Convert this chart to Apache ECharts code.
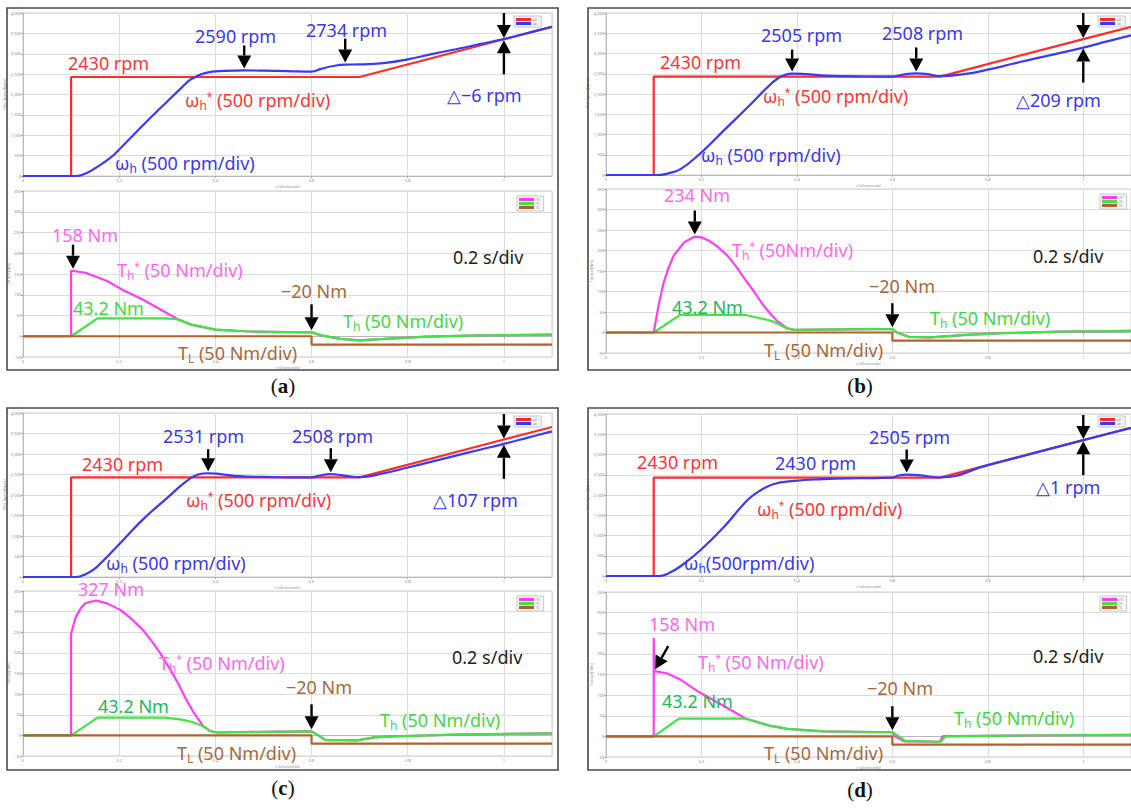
<!DOCTYPE html>
<html>
<head>
<meta charset="utf-8">
<script src="https://cdn.jsdelivr.net/npm/echarts@6/dist/echarts.min.js"></script>
<style>
  html, body { margin: 0; padding: 0; background: #fff; }
  #main { width: 1131px; height: 810px; }
</style>
</head>
<body>
<div id="main"></div>
<script>
// ---- Speed reference (shared by all four runs) ----
const refSpeed_t = [0, 0.1, 0.1, 0.7, 1.0, 1.1];
const refSpeed_v = [0, 0, 2430, 2430, 3355, 3660];

// ---- Load torque step (shared) ----
const loadTorque_t = [0, 0.6, 0.6, 1.1];
const loadTorque_v = [0, 0, -20, -20];

// ---- (a) ----
const speedA_t = [0, 0.11, 0.13, 0.15, 0.18, 0.2, 0.25, 0.3, 0.33, 0.35, 0.38, 0.42, 0.46, 0.5, 0.55, 0.6, 0.62, 0.645, 0.67, 0.7, 0.75, 0.8, 0.85, 0.9, 0.95, 1.0, 1.05, 1.1];
const speedA_v = [0, 0, 60, 190, 430, 650, 1250, 1830, 2170, 2380, 2530, 2578, 2590, 2586, 2576, 2560, 2630, 2700, 2734, 2738, 2770, 2860, 2990, 3110, 3235, 3361, 3510, 3662];
const cmdTorqueA_t = [0, 0.1, 0.1, 0.13, 0.175, 0.21, 0.25, 0.285, 0.32, 0.35, 0.4, 0.47, 0.55, 0.6, 0.62, 0.66, 0.7, 0.77, 0.84, 0.95, 1.1];
const cmdTorqueA_v = [0, 0, 158, 153, 133, 110, 88, 65, 42, 28, 16, 11.5, 10, 9.5, 2, -6.5, -10, -5, -1, 2, 4];
const torqueA_t = [0, 0.1, 0.155, 0.295, 0.32, 0.35, 0.4, 0.47, 0.55, 0.6, 0.62, 0.66, 0.7, 0.77, 0.84, 0.95, 1.1];
const torqueA_v = [0, 0, 43.2, 43.2, 41, 28, 16, 11.5, 10, 9.5, 2, -6.5, -10, -5, -1, 2, 4];

// ---- (b) ----
const speedB_t = [0, 0.11, 0.13, 0.157, 0.2, 0.246, 0.3, 0.336, 0.358, 0.375, 0.39, 0.42, 0.46, 0.5, 0.55, 0.6, 0.625, 0.65, 0.675, 0.7, 0.75, 0.8, 0.85, 0.9, 0.95, 1.0, 1.05, 1.1];
const speedB_v = [0, 0, 40, 150, 560, 1090, 1710, 2140, 2370, 2470, 2505, 2490, 2455, 2440, 2432, 2430, 2485, 2508, 2490, 2440, 2490, 2600, 2740, 2880, 3010, 3146, 3298, 3450];
const cmdTorqueB_t = [0, 0.1, 0.11, 0.12, 0.13, 0.142, 0.164, 0.186, 0.2, 0.216, 0.235, 0.254, 0.272, 0.291, 0.31, 0.328, 0.345, 0.358, 0.38, 0.395, 0.45, 0.55, 0.6, 0.61, 0.634, 0.68, 0.754, 0.83, 0.95, 1.1];
const cmdTorqueB_v = [0, 0, 65, 118, 155, 188, 220, 234, 232, 224, 208, 188, 162, 130, 100, 69, 45, 28.5, 10, 6.5, 7, 8, 8, 0, -10.6, -12, -5.7, -1.6, 2, 4];
const torqueB_t = [0, 0.1, 0.155, 0.29, 0.33, 0.35, 0.38, 0.395, 0.45, 0.55, 0.6, 0.61, 0.634, 0.68, 0.754, 0.83, 0.95, 1.1];
const torqueB_v = [0, 0, 43.2, 43.2, 33, 27, 10, 6.5, 7, 8, 8, 0, -10.6, -12, -5.7, -1.6, 2, 4];

// ---- (c) ----
const speedC_t = [0, 0.11, 0.13, 0.152, 0.2, 0.249, 0.3, 0.338, 0.364, 0.385, 0.41, 0.45, 0.5, 0.55, 0.6, 0.615, 0.64, 0.665, 0.7, 0.75, 0.8, 0.85, 0.9, 0.95, 1.0, 1.05, 1.1];
const speedC_v = [0, 0, 70, 230, 800, 1400, 1930, 2320, 2500, 2531, 2510, 2460, 2440, 2432, 2430, 2470, 2508, 2480, 2435, 2530, 2670, 2815, 2960, 3105, 3248, 3400, 3552];
const cmdTorqueC_t = [0, 0.1, 0.1, 0.11, 0.12, 0.13, 0.152, 0.175, 0.204, 0.225, 0.249, 0.268, 0.286, 0.305, 0.323, 0.338, 0.353, 0.375, 0.39, 0.405, 0.5, 0.6, 0.61, 0.628, 0.695, 0.73, 0.77, 0.9, 1.1];
const cmdTorqueC_v = [0, 0, 247, 288, 308, 321, 327, 320, 303, 283, 256, 228, 198, 162, 125, 90, 59, 22, 10, 7, 8.5, 9.8, 3, -10.7, -12.3, -5, -2.5, 2, 5];
const torqueC_t = [0, 0.1, 0.155, 0.297, 0.33, 0.35, 0.375, 0.39, 0.405, 0.5, 0.6, 0.61, 0.628, 0.695, 0.73, 0.77, 0.9, 1.1];
const torqueC_v = [0, 0, 43.2, 43.2, 38, 33, 22, 10, 7, 8.5, 9.8, 3, -10.7, -12.3, -5, -2.5, 2, 5];

// ---- (d) ----
const speedD_t = [0, 0.11, 0.13, 0.157, 0.2, 0.246, 0.291, 0.313, 0.35, 0.395, 0.455, 0.53, 0.6, 0.612, 0.63, 0.66, 0.7, 0.8, 0.9, 1.0, 1.1];
const speedD_v = [0, 0, 60, 247, 660, 1195, 1810, 2035, 2265, 2350, 2390, 2414, 2430, 2480, 2505, 2485, 2432, 2737, 3046, 3354, 3660];
const cmdTorqueD_t = [0, 0.1, 0.1, 0.101, 0.127, 0.157, 0.194, 0.231, 0.269, 0.291, 0.343, 0.38, 0.455, 0.6, 0.605, 0.625, 0.7, 0.705, 0.715, 0.72, 0.85, 1.1];
const cmdTorqueD_v = [0, 0, 239, 158, 153, 137, 108, 84, 59, 44, 26, 18, 12, 10, 0, -12, -13, 0, 1, 0.5, 2, 4];
const torqueD_t = [0, 0.1, 0.153, 0.29, 0.343, 0.38, 0.455, 0.6, 0.627, 0.7, 0.712, 0.85, 1.1];
const torqueD_v = [0, 0, 43.2, 43.2, 26, 18, 12, 10, -10.7, -13, 0, 2, 4];

// ---- axis ticks ----
const timeTicks = { min: 0, max: 1.1, interval: 0.2 };
const speedTicks = { min: 0, max: 4000, interval: 500 };
const torqueTicks = { min: -50, max: 350, interval: 50 };

// ---- colours ----
const C = {
  ref: '#ff2b2b', speed: '#3a3af2', cmd: '#ff3cf5', torque: '#3fe63f', load: '#b2622e',
  txtRed: '#ff3333', txtBlue: '#3838ee', txtPink: '#ff66f0', txtGreen: '#22b85a', txtLime: '#42d842', txtBrown: '#a8683a'
};
const FONT = '"Noto Sans", "Open Sans", sans-serif';
const SERIF = '"Liberation Serif", "DejaVu Serif", serif';

const pairs = (t, v) => t.map((x, i) => [x, v[i]]);

// panel layout: grids in pixels [left, top, width, height]
const panels = [
  { tag: 'a', frame: [7, 8, 551, 362], sg: [23, 13, 529, 163], tg: [23, 191, 529, 166], tagPos: [283, 386],
    sLeg: [514, 16], tLeg: [517, 196],
    speed: [speedA_t, speedA_v], cmd: [cmdTorqueA_t, cmdTorqueA_v], th: [torqueA_t, torqueA_v] },
  { tag: 'b', frame: [588, 8, 560, 362], sg: [606, 13, 529, 162], tg: [606, 189, 529, 164], tagPos: [860, 386],
    sLeg: [1098, 16], tLeg: [1100, 194],
    speed: [speedB_t, speedB_v], cmd: [cmdTorqueB_t, cmdTorqueB_v], th: [torqueB_t, torqueB_v] },
  { tag: 'c', frame: [7, 408, 551, 362], sg: [23, 413, 529, 164], tg: [23, 591, 529, 165], tagPos: [283, 788],
    sLeg: [514, 416], tLeg: [517, 596],
    speed: [speedC_t, speedC_v], cmd: [cmdTorqueC_t, cmdTorqueC_v], th: [torqueC_t, torqueC_v] },
  { tag: 'd', frame: [588, 408, 560, 362], sg: [606, 414, 529, 162], tg: [606, 592, 529, 165], tagPos: [860, 790],
    sLeg: [1098, 416], tLeg: [1100, 596],
    speed: [speedD_t, speedD_v], cmd: [cmdTorqueD_t, cmdTorqueD_v], th: [torqueD_t, torqueD_v] }
];

const grids = [], xAxes = [], yAxes = [], series = [], legends = [];
const tinyLabel = { fontSize: 4, color: '#8a8a8a', fontFamily: FONT };

function addAxes(gi, ticks, yName) {
  xAxes.push({
    type: 'value', gridIndex: gi, min: timeTicks.min, max: timeTicks.max, interval: timeTicks.interval,
    name: 't (s)(seconds)', nameLocation: 'middle', nameGap: 8, nameTextStyle: tinyLabel,
    axisLine: { show: true, lineStyle: { color: '#b8b8b8', width: 1 } },
    axisTick: { show: true, length: 2, lineStyle: { color: '#aaa' } },
    axisLabel: Object.assign({ margin: 2, showMaxLabel: false }, tinyLabel),
    splitLine: { show: true, lineStyle: { color: '#dcdcdc', width: 1 } }
  });
  yAxes.push({
    type: 'value', gridIndex: gi, min: ticks.min, max: ticks.max, interval: ticks.interval,
    name: yName, nameLocation: 'middle', nameGap: 9, nameRotate: 90, nameTextStyle: tinyLabel,
    axisLine: { show: true, lineStyle: { color: '#b8b8b8', width: 1 } },
    axisTick: { show: true, length: 2, lineStyle: { color: '#aaa' } },
    axisLabel: Object.assign({ margin: 2 }, tinyLabel),
    splitLine: { show: true, lineStyle: { color: '#dcdcdc', width: 1 } }
  });
}

function line(name, gi, data, color, smooth) {
  return {
    name, type: 'line', xAxisIndex: gi, yAxisIndex: gi, data, showSymbol: false, symbol: 'none',
    smooth: smooth || false, animation: false,
    lineStyle: { color, width: 2.2 }, itemStyle: { color }, clip: true
  };
}

function legendAt(pos, names) {
  return {
    left: pos[0], top: pos[1], orient: 'vertical', icon: 'rect', itemWidth: 15, itemHeight: 3, itemGap: 1,
    padding: [2, 3, 2, 2], borderColor: '#c8c8c8', borderWidth: 1, backgroundColor: '#f6f6f6',
    textStyle: { fontSize: 3, color: '#888', padding: [0, 0, 0, -3] }, data: names, selectedMode: false
  };
}

panels.forEach((p, k) => {
  const gs = 2 * k, gt = 2 * k + 1;
  grids.push({ left: p.sg[0], top: p.sg[1], width: p.sg[2], height: p.sg[3], show: true, borderColor: '#cfcfcf', borderWidth: 1, backgroundColor: '#fff' });
  grids.push({ left: p.tg[0], top: p.tg[1], width: p.tg[2], height: p.tg[3], show: true, borderColor: '#cfcfcf', borderWidth: 1, backgroundColor: '#fff' });
  addAxes(gs, speedTicks, 'HSG Speed[rpm]');
  addAxes(gt, torqueTicks, 'Torque[Nm]');
  series.push(line('ωh*', gs, pairs(refSpeed_t, refSpeed_v), C.ref, false));
  series.push(line('ωh', gs, pairs(p.speed[0], p.speed[1]), C.speed, 0.45));
  series.push(line('Th*', gt, pairs(p.cmd[0], p.cmd[1]), C.cmd, false));
  series.push(line('Th', gt, pairs(p.th[0], p.th[1]), C.torque, false));
  series.push(line('TL', gt, pairs(loadTorque_t, loadTorque_v), C.load, false));
  legends.push(legendAt(p.sLeg, ['ωh*', 'ωh']));
  legends.push(legendAt(p.tLeg, ['Th*', 'Th', 'TL']));
});

const chart = echarts.init(document.getElementById('main'), null, { renderer: 'svg' });
chart.setOption({
  animation: false, backgroundColor: '#fff',
  grid: grids, xAxis: xAxes, yAxis: yAxes, series, legend: legends
});

// ---- annotations ----
const px = (gi, t, v) => chart.convertToPixel({ gridIndex: gi }, [t, v]);

function richFor(color, size) {
  return {
    s: { fontSize: Math.round(size * 0.68), fontFamily: FONT, fill: color, padding: [Math.round(size * 0.55), 0, 0, 0], verticalAlign: 'middle' },
    p: { fontSize: Math.round(size * 0.55), fontFamily: FONT, fill: color, padding: [0, 0, Math.round(size * 0.45), 0], verticalAlign: 'middle' }
  };
}
function txt(x, y, text, color, size) {
  size = size || 18;
  return {
    type: 'text', x, y, z: 100, silent: true,
    style: { text, fill: color, fontSize: size, fontFamily: FONT, textAlign: 'left', textVerticalAlign: 'middle',
             align: 'left', verticalAlign: 'middle', rich: richFor(color, size) }
  };
}
function arrow(x1, y1, x2, y2) {
  const a = Math.atan2(y2 - y1, x2 - x1), L = 13, W = 7;
  const bx = x2 - L * Math.cos(a), by = y2 - L * Math.sin(a);
  const nx = -Math.sin(a) * W, ny = Math.cos(a) * W;
  return [
    { type: 'line', z: 101, silent: true, shape: { x1, y1, x2: bx, y2: by }, style: { stroke: '#000', lineWidth: 2.4 } },
    { type: 'polygon', z: 101, silent: true, shape: { points: [[x2, y2], [bx + nx, by + ny], [bx - nx, by - ny]] }, style: { fill: '#000' } }
  ];
}
// arrow pointing down onto a data point
function downTo(gi, t, v, len) {
  const q = px(gi, t, v);
  return arrow(q[0], q[1] - 2 - (len || 24), q[0], q[1] - 2);
}
// pair of arrows marking the gap between two values at the same time
function gapArrows(gi, t, hi, lo, topY) {
  const a = px(gi, t, hi), b = px(gi, t, lo);
  return arrow(a[0], topY, a[0], a[1] - 1).concat(arrow(b[0], b[1] + 35, b[0], b[1] + 1));
}
const at = (arr_t, arr_v, t) => arr_v[arr_t.indexOf(t)];

const els = [];
panels.forEach(p => {
  const f = p.frame;
  els.push({ type: 'rect', z: 90, silent: true, shape: { x: f[0], y: f[1], width: f[2], height: f[3] },
             style: { fill: 'none', stroke: '#4a4a4a', lineWidth: 1.6 } });
  els.push({ type: 'text', x: p.tagPos[0], y: p.tagPos[1], z: 100, silent: true,
             style: { text: '({b|' + p.tag + '})', fill: '#111', fontSize: 21, fontFamily: SERIF,
                      textAlign: 'center', textVerticalAlign: 'middle', align: 'center', verticalAlign: 'middle',
                      rich: { b: { fontSize: 21, fontFamily: SERIF, fontWeight: 'bold', fill: '#111' } } } });
});

const refAt1 = at(refSpeed_t, refSpeed_v, 1.0);

// (a)
els.push(txt(68, 63, '2430 rpm', C.txtRed));
els.push(txt(195, 36, '2590 rpm', C.txtBlue));
els.push(txt(306, 30, '2734 rpm', C.txtBlue));
els.push(txt(185, 100, 'ω{s|h}{p|*} (500 rpm/div)', C.txtRed));
els.push(txt(115, 163, 'ω{s|h} (500 rpm/div)', C.txtBlue));
els.push(txt(447, 95, '△−6 rpm', C.txtBlue));
els.push(...downTo(0, 0.46, 2590, 23), ...downTo(0, 0.67, 2734, 24));
els.push(...gapArrows(0, 1.0, Math.max(refAt1, at(speedA_t, speedA_v, 1.0)), Math.min(refAt1, at(speedA_t, speedA_v, 1.0)), 13));
els.push(txt(52, 235, '158 Nm', C.txtPink));
els.push(txt(117, 270, 'T{s|h}{p|*} (50 Nm/div)', C.txtPink));
els.push(txt(453, 257, '0.2 s/div', '#222'));
els.push(txt(73, 308, '43.2 Nm', C.txtLime));
els.push(txt(281, 291, '−20 Nm', C.txtBrown));
els.push(txt(343, 321, 'T{s|h} (50 Nm/div)', C.txtLime));
els.push(txt(178, 353, 'T{s|L} (50 Nm/div)', C.txtBrown));
els.push(...downTo(1, 0.104, 158, 24), ...downTo(1, 0.6, at(torqueA_t, torqueA_v, 0.6), 26));

// (b)
els.push(txt(660, 62, '2430 rpm', C.txtRed));
els.push(txt(761, 35, '2505 rpm', C.txtBlue));
els.push(txt(882, 33, '2508 rpm', C.txtBlue));
els.push(txt(763, 96, 'ω{s|h}{p|*} (500 rpm/div)', C.txtRed));
els.push(txt(701, 155, 'ω{s|h} (500 rpm/div)', C.txtBlue));
els.push(txt(1016, 100, '△209 rpm', C.txtBlue));
els.push(...downTo(2, 0.39, 2505, 22), ...downTo(2, 0.65, 2508, 24));
els.push(...gapArrows(2, 1.0, refAt1, at(speedB_t, speedB_v, 1.0), 13));
els.push(txt(664, 195, '234 Nm', C.txtPink));
els.push(txt(732, 250, 'T{s|h}{p|*} (50Nm/div)', C.txtPink));
els.push(txt(1033, 256, '0.2 s/div', '#222'));
els.push(txt(672, 307, '43.2 Nm', C.txtGreen));
els.push(txt(869, 286, '−20 Nm', C.txtBrown));
els.push(txt(930, 318, 'T{s|h} (50 Nm/div)', C.txtLime));
els.push(txt(764, 350, 'T{s|L} (50 Nm/div)', C.txtBrown));
els.push(...downTo(3, 0.186, 234, 24), ...downTo(3, 0.6, at(torqueB_t, torqueB_v, 0.6), 24));

// (c)
els.push(txt(82, 464, '2430 rpm', C.txtRed));
els.push(txt(163, 436, '2531 rpm', C.txtBlue));
els.push(txt(292, 436, '2508 rpm', C.txtBlue));
els.push(txt(186, 500, 'ω{s|h}{p|*} (500 rpm/div)', C.txtRed));
els.push(txt(106, 563, 'ω{s|h} (500 rpm/div)', C.txtBlue));
els.push(txt(433, 500, '△107 rpm', C.txtBlue));
els.push(...downTo(4, 0.385, 2531, 22), ...downTo(4, 0.64, 2508, 24));
els.push(...gapArrows(4, 1.0, refAt1, at(speedC_t, speedC_v, 1.0), 414));
els.push(txt(78, 589, '327 Nm', C.txtPink));
els.push(txt(159, 663, 'T{s|h}{p|*} (50 Nm/div)', C.txtPink));
els.push(txt(452, 657, '0.2 s/div', '#222'));
els.push(txt(98, 706, '43.2 Nm', C.txtGreen));
els.push(txt(286, 687, '−20 Nm', C.txtBrown));
els.push(txt(380, 720, 'T{s|h} (50 Nm/div)', C.txtLime));
els.push(txt(177, 753, 'T{s|L} (50 Nm/div)', C.txtBrown));
els.push(...downTo(5, 0.6, at(torqueC_t, torqueC_v, 0.6), 25));

// (d)
els.push(txt(637, 462, '2430 rpm', C.txtRed));
els.push(txt(775, 463, '2430 rpm', C.txtBlue));
els.push(txt(869, 437, '2505 rpm', C.txtBlue));
els.push(txt(757, 509, 'ω{s|h}{p|*} (500 rpm/div)', C.txtRed));
els.push(txt(684, 563, 'ω{s|h}(500rpm/div)', C.txtBlue));
els.push(txt(1036, 487, '△1 rpm', C.txtBlue));
els.push(...downTo(6, 0.63, 2505, 23));
els.push(...gapArrows(6, 1.0, Math.max(refAt1, at(speedD_t, speedD_v, 1.0)), Math.min(refAt1, at(speedD_t, speedD_v, 1.0)), 415));
els.push(txt(649, 624, '158 Nm', C.txtPink));
els.push(txt(698, 662, 'T{s|h}{p|*} (50 Nm/div)', C.txtPink));
els.push(txt(1033, 656, '0.2 s/div', '#222'));
els.push(txt(662, 701, '43.2 Nm', C.txtGreen));
els.push(txt(867, 688, '−20 Nm', C.txtBrown));
els.push(txt(954, 718, 'T{s|h} (50 Nm/div)', C.txtLime));
els.push(txt(764, 753, 'T{s|L} (50 Nm/div)', C.txtBrown));
(function () {
  const q = px(7, 0.101, 158);
  els.push(...arrow(q[0] + 14, q[1] - 25, q[0] + 1, q[1] - 2));
})();
els.push(...downTo(7, 0.6, at(torqueD_t, torqueD_v, 0.6), 24));

chart.setOption({ graphic: { elements: els } });
</script>
</body>
</html>
